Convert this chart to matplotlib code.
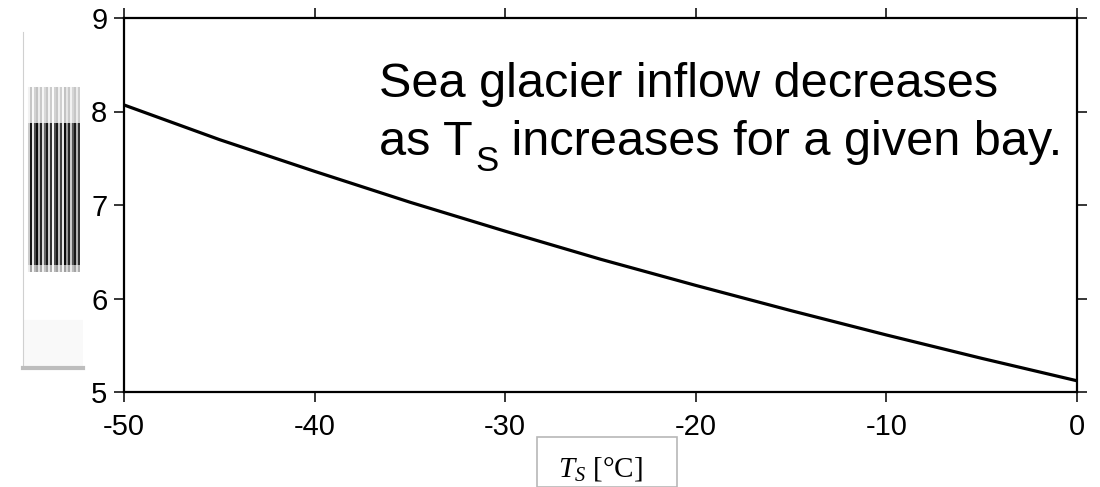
import numpy as np
import matplotlib
matplotlib.use("Agg")
import matplotlib.pyplot as plt
from matplotlib.patches import Rectangle

plt.rcParams['font.family'] = ['Liberation Sans', 'DejaVu Sans']
plt.rcParams['mathtext.fontset'] = 'custom'
plt.rcParams['mathtext.rm'] = 'Liberation Sans'
plt.rcParams['mathtext.it'] = 'Liberation Serif:italic'

# surface temperature T_S [degC] and sea glacier inflow
ts = [-50, -45, -40, -35, -30, -25, -20, -15, -10, -5, 0]
inflow = [8.07, 7.70, 7.36, 7.03, 6.72, 6.42, 6.14, 5.87, 5.61, 5.36, 5.12]

x_ticks = [-50, -40, -30, -20, -10, 0]
y_ticks = [5, 6, 7, 8, 9]

note_1 = "Sea glacier inflow decreases"
note_2a = "as T"
note_2s = "S"
note_2b = " increases for a given bay."
x_label = "$\\mathit{T}_\\mathit{S}$ [\u00b0C]"

# column shades of the garbled y-label strip at the far left
strip_cols = [0.2, 0.9, 0.1, 0.7, 0.95, 0.3, 0.85, 0.15, 0.6, 0.9, 0.2, 0.8, 0.05,
              0.7, 0.9, 0.25, 0.75, 0.1, 0.95, 0.4, 0.85, 0.2, 0.65, 0.9, 0.3, 0.8]

fig = plt.figure(figsize=(11, 4.87), dpi=100)
ax = fig.add_axes([124 / 1100, 1 - 392 / 487, (1077 - 124) / 1100, (392 - 18) / 487])

ax.plot(ts, inflow, color='black', lw=2.3, solid_capstyle='butt')
ax.set_xlim(-50, 0)
ax.set_ylim(5, 9)
ax.set_xticks(x_ticks)
ax.set_yticks(y_ticks)
ax.set_xticklabels([str(v) for v in x_ticks])
ax.set_yticklabels([str(v) for v in y_ticks])
ax.tick_params(direction='out', length=7, width=1.1, labelsize=21,
               top=True, right=True, labeltop=False, labelright=False)
ax.tick_params(axis='x', pad=8)
ax.tick_params(axis='y', pad=5)
for s in ax.spines.values():
    s.set_linewidth(1.6)

fs = 35
ax.text(-36.6, 8.155, note_1, fontsize=fs, ha='left', va='baseline')
t1 = ax.text(-36.6, 7.535, note_2a, fontsize=fs, ha='left', va='baseline')
t2 = ax.annotate(note_2s, xy=(1, 0), xycoords=t1, xytext=(2, -6),
                 textcoords='offset pixels', fontsize=25, ha='left', va='baseline')
ax.annotate(note_2b, xy=(1, 0), xycoords=(t2, t1), fontsize=fs,
            ha='left', va='bottom')

ax.set_xlabel(x_label, fontsize=21, family=['Liberation Serif', 'DejaVu Serif'],
              labelpad=10)
# pasted label box
fig.patches.append(Rectangle((537 / 1100, 0), 140 / 1100, 1 - 437 / 487,
                             transform=fig.transFigure, fc='white', ec='#b8b8b8',
                             lw=1.2, zorder=-1))

# garbled label strip on the left
sax = fig.add_axes([23 / 1100, 1 - 368 / 487, 60 / 1100, (368 - 32) / 487])
rows = 336
shade = np.zeros(rows)
shade[55:91] = 0.25
shade[91:233] = 1.0
shade[233:240] = 0.4
fade = np.zeros(rows)
fade[288:] = 0.02
cols = np.repeat(np.array(strip_cols), 2)
img = np.zeros((rows, 60))
img[:, 5:5 + len(cols)] = np.outer(shade, cols)
img = np.maximum(img, fade[:, None])
sax.imshow(img, cmap='gray_r', vmin=0, vmax=1, aspect='auto', interpolation='bilinear')
sax.set_xticks([])
sax.set_yticks([])
for k in ['top', 'right']:
    sax.spines[k].set_visible(False)
sax.spines['left'].set_color('#d0d0d0')
sax.spines['left'].set_linewidth(0.8)
sax.spines['bottom'].set_color('#bdbdbd')
sax.spines['bottom'].set_linewidth(3)

fig.savefig('out.png', dpi=100)
